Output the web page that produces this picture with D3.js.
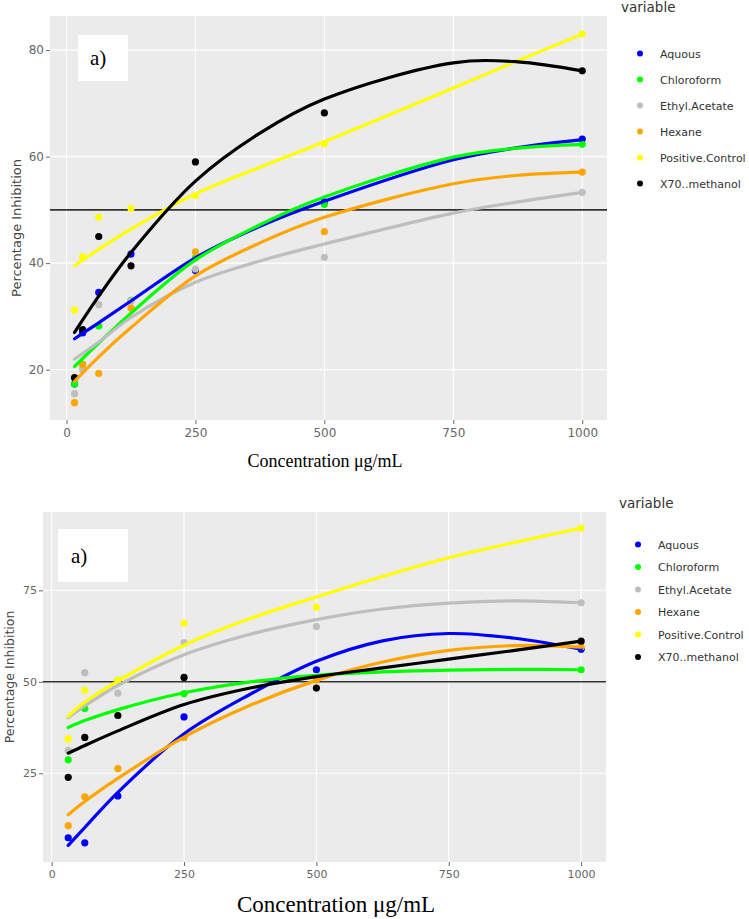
<!DOCTYPE html>
<html>
<head>
<meta charset="utf-8">
<script src="https://cdn.jsdelivr.net/npm/d3@7"></script>
<style>
  body { margin: 0; background: #fff; }
  svg { display: block; }
</style>
</head>
<body>
<svg id="chart" width="749" height="919"></svg>
<script>
// series names and colours (same for both panels)
const seriesNames = ["Aquous", "Chloroform", "Ethyl.Acetate", "Hexane", "Positive.Control", "X70..methanol"];
const seriesColors = ["#0000ff", "#00ff00", "#bebebe", "#ffa500", "#ffff00", "#000000"];

// ---- panel 1 ----
const conc1 = [15.625, 31.25, 62.5, 125, 250, 500, 1000];
const aquous1 = [17.3, 26.9, 34.5, 41.7, 38.6, 51.5, 63.3];
const chloro1 = [17.3, 21.0, 28.2, 33.0, 41.0, 51.0, 62.3];
const ethyl1 = [15.5, 20.0, 32.2, 32.9, 38.9, 41.1, 53.3];
const hexane1 = [13.8, 20.9, 19.3, 31.6, 42.1, 45.9, 57.1];
const positive1 = [31.2, 41.2, 48.6, 50.3, 52.7, 62.4, 83.0];
const methanol1 = [18.5, 27.5, 45.0, 39.5, 59.0, 68.2, 76.1];

// fitted curves
const fitX1 = [15.625, 62.5, 125, 250, 375, 500, 750, 875, 1000];
const aquousFit1 = [25.8, 28.8, 32.9, 41.0, 46.9, 51.6, 59.4, 61.7, 63.2];
const chloroFit1 = [20.6, 25.0, 30.6, 40.6, 47.2, 52.4, 59.9, 61.6, 62.3];
const ethylFit1 = [22.0, 25.2, 29.8, 36.4, 40.4, 43.6, 49.4, 51.5, 53.3];
const hexaneFit1 = [17.8, 22.4, 27.9, 37.6, 43.8, 48.6, 54.9, 56.5, 57.1];
const positiveFit1 = [39.5, 42.6, 46.4, 53.0, 58.0, 62.8, 72.9, 78.0, 83.0];
const methanolFit1 = [27.0, 33.8, 42.0, 55.4, 64.4, 70.8, 77.6, 77.8, 76.1];

const xTicks1 = [0, 250, 500, 750, 1000];
const yTicks1 = [20, 40, 60, 80];

// ---- panel 2 ----
const conc2 = [31.25, 62.5, 125, 250, 500, 1000];
const aquous2 = [7.4, 6.0, 18.8, 40.4, 53.3, 58.9];
const chloro2 = [28.7, 42.7, 50.4, 46.8, 51.0, 53.3];
const ethyl2 = [31.3, 52.5, 46.9, 60.7, 65.1, 71.6];
const hexane2 = [10.7, 18.6, 26.3, 34.8, 50.5, 59.5];
const positive2 = [34.4, 47.7, 50.5, 66.0, 70.4, 92.0];
const methanol2 = [23.9, 34.8, 40.8, 51.2, 48.3, 61.1];

const fitX2 = [31.25, 62.5, 125, 250, 375, 500, 625, 750, 875, 1000];
const aquousFit2 = [5.3, 10.2, 19.8, 35.8, 46.6, 55.6, 61.2, 63.2, 61.9, 58.9];
const chloroFit2 = [37.5, 39.4, 42.4, 47.0, 50.0, 51.8, 52.7, 53.2, 53.4, 53.3];
const ethylFit2 = [40.2, 43.4, 49.0, 57.4, 63.0, 67.0, 69.9, 71.5, 72.1, 71.6];
const hexaneFit2 = [13.7, 17.3, 23.6, 34.9, 43.6, 50.4, 55.4, 58.6, 59.9, 59.5];
const positiveFit2 = [40.6, 44.4, 50.2, 60.0, 67.3, 73.2, 78.8, 83.9, 88.1, 92.0];
const methanolFit2 = [30.5, 32.6, 36.6, 43.8, 48.3, 51.4, 53.8, 56.2, 58.6, 61.1];

const xTicks2 = [0, 250, 500, 750, 1000];
const yTicks2 = [25, 50, 75];

const threshold = 50;

const svg = d3.select("#chart");

function drawPanel(p) {
  let x = d3.scaleLinear().domain(p.xDomain).range([p.left, p.right]);
  let y = d3.scaleLinear().domain(p.yDomain).range([p.bottom, p.top]);

  let g = svg.append("g");

  g.append("rect")
    .attr("x", p.left).attr("y", p.top)
    .attr("width", p.right - p.left).attr("height", p.bottom - p.top)
    .attr("fill", "#ebebeb");

  // grid
  g.selectAll(".vgrid").data(p.xTicks).join("line")
    .attr("x1", d => x(d)).attr("x2", d => x(d))
    .attr("y1", p.top).attr("y2", p.bottom)
    .attr("stroke", "#fff").attr("stroke-width", 1.1);
  g.selectAll(".hgrid").data(p.yTicks).join("line")
    .attr("y1", d => y(d)).attr("y2", d => y(d))
    .attr("x1", p.left).attr("x2", p.right)
    .attr("stroke", "#fff").attr("stroke-width", 1.1);

  // axes
  let xAxis = g.append("g")
    .attr("transform", `translate(0,${p.bottom})`)
    .call(d3.axisBottom(x).tickValues(p.xTicks).tickFormat(d3.format("d")).tickSize(4).tickPadding(4));
  let yAxis = g.append("g")
    .attr("transform", `translate(${p.left},0)`)
    .call(d3.axisLeft(y).tickValues(p.yTicks).tickFormat(d3.format("d")).tickSize(4).tickPadding(2));
  [xAxis, yAxis].forEach(a => {
    a.select(".domain").remove();
    a.selectAll("line").attr("stroke", "#666");
    a.selectAll("text")
      .attr("fill", "#666")
      .style("font-family", "'DejaVu Sans', Verdana, sans-serif")
      .style("font-size", p.tickFont + "px");
  });

  // threshold line
  g.append("line")
    .attr("x1", p.left).attr("x2", p.right)
    .attr("y1", y(threshold)).attr("y2", y(threshold))
    .attr("stroke", "#333").attr("stroke-width", 1.6);

  // points
  p.points.forEach((vals, i) => {
    g.append("g").selectAll("circle")
      .data(vals.map((v, j) => ({x: p.conc[j], y: v})))
      .join("circle")
      .attr("cx", d => x(d.x))
      .attr("cy", d => y(d.y))
      .attr("r", 3.6)
      .attr("fill", seriesColors[i]);
  });

  // fitted lines
  let line = d3.line()
    .x(d => x(d.x))
    .y(d => y(d.y))
    .curve(d3.curveCatmullRom.alpha(0.5));
  p.fits.forEach((vals, i) => {
    g.append("path")
      .datum(vals.map((v, j) => ({x: p.fitX[j], y: v})))
      .attr("d", line)
      .attr("fill", "none")
      .attr("stroke", seriesColors[i])
      .attr("stroke-width", 3.2)
      .attr("stroke-linecap", "round");
  });

  // "a)" label box
  g.append("rect")
    .attr("x", p.box[0]).attr("y", p.box[1])
    .attr("width", p.box[2]).attr("height", p.box[3])
    .attr("fill", "#fff");
  g.append("text")
    .attr("x", p.box[0] + p.labelDx)
    .attr("y", p.box[1] + p.box[3] / 2 + 7)
    .style("font-family", "'Liberation Serif', 'Times New Roman', serif")
    .style("font-size", "21px")
    .attr("fill", "#000")
    .text("a)");

  // axis titles
  g.append("text")
    .attr("transform", `translate(${p.yTitleX},${(p.top + p.bottom) / 2 + p.yTitleDy}) rotate(-90)`)
    .attr("text-anchor", "middle")
    .style("font-family", "'DejaVu Sans', Verdana, sans-serif")
    .style("font-size", p.yTitleFont + "px")
    .attr("fill", "#444")
    .text("Percentage Inhibition");

  g.append("text")
    .attr("x", p.xTitleX)
    .attr("y", p.xTitleY)
    .attr("text-anchor", "middle")
    .style("font-family", "'Liberation Serif', 'Times New Roman', serif")
    .style("font-size", p.xTitleFont + "px")
    .attr("fill", "#000")
    .text("Concentration μg/mL");

  // legend
  let leg = g.append("g");
  leg.append("text")
    .attr("x", p.legX)
    .attr("y", p.legTitleY)
    .style("font-family", "'DejaVu Sans', Verdana, sans-serif")
    .style("font-size", "13.5px")
    .attr("fill", "#333")
    .text("variable");
  seriesNames.forEach((name, i) => {
    let yy = p.legY0 + i * p.legStep;
    leg.append("circle")
      .attr("cx", p.legX + 19).attr("cy", yy)
      .attr("r", 3).attr("fill", seriesColors[i]);
    leg.append("text")
      .attr("x", p.legX + 39).attr("y", yy + 4)
      .style("font-family", "'DejaVu Sans', Verdana, sans-serif")
      .style("font-size", "11px")
      .attr("fill", "#333")
      .text(name);
  });
}

drawPanel({
  left: 50, right: 607, top: 16, bottom: 420,
  xDomain: [-32, 1048], yDomain: [10.55, 86.4],
  xTicks: xTicks1, yTicks: yTicks1, tickFont: 12,
  conc: conc1,
  points: [aquous1, chloro1, ethyl1, hexane1, positive1, methanol1],
  fitX: fitX1,
  fits: [aquousFit1, chloroFit1, ethylFit1, hexaneFit1, positiveFit1, methanolFit1],
  box: [78, 35, 50, 46], labelDx: 12,
  yTitleX: 21, yTitleDy: 10, yTitleFont: 13,
  xTitleX: 325, xTitleY: 467, xTitleFont: 18,
  legX: 621, legTitleY: 12, legY0: 53.5, legStep: 26
});

drawPanel({
  left: 43, right: 606, top: 512, bottom: 862,
  xDomain: [-16.4, 1047], yDomain: [0.77, 96.4],
  xTicks: xTicks2, yTicks: yTicks2, tickFont: 11,
  conc: conc2,
  points: [aquous2, chloro2, ethyl2, hexane2, positive2, methanol2],
  fitX: fitX2,
  fits: [aquousFit2, chloroFit2, ethylFit2, hexaneFit2, positiveFit2, methanolFit2],
  box: [58, 529, 70, 53], labelDx: 13,
  yTitleX: 14, yTitleDy: -10, yTitleFont: 12.5,
  xTitleX: 336, xTitleY: 912, xTitleFont: 23,
  legX: 619, legTitleY: 508, legY0: 544.5, legStep: 22.5
});
</script>
</body>
</html>
